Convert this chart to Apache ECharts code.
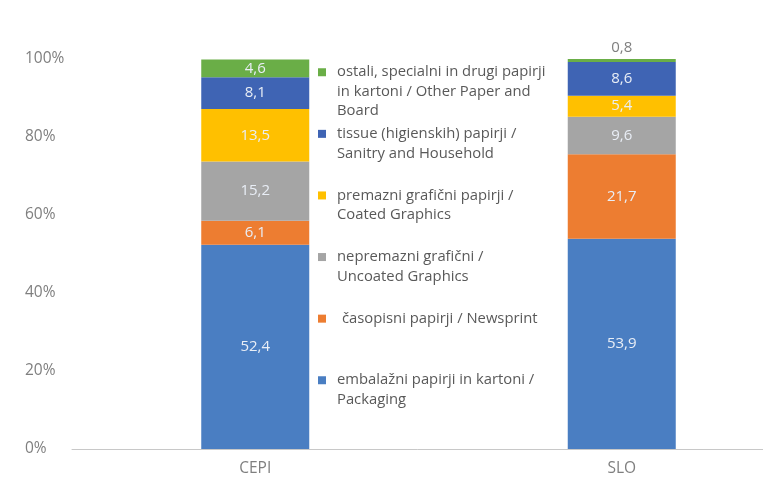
<!DOCTYPE html>
<html>
<head>
<meta charset="utf-8">
<script src="https://cdn.jsdelivr.net/npm/echarts@6/dist/echarts.min.js"></script>
<style>
  html, body { margin: 0; padding: 0; background: #fff; }
  #chart { width: 763px; height: 488px; }
</style>
</head>
<body>
<div id="chart"></div>
<script>
// categories
const categories = ['CEPI', 'SLO'];

// shares in %, bottom of the stack first
const packaging = [52.4, 53.9];
const newsprint = [6.1, 21.7];
const uncoated = [15.2, 9.6];
const coated = [13.5, 5.4];
const tissue = [8.1, 8.6];
const other = [4.6, 0.8];

const names = {
  packaging: 'embalažni papirji in kartoni /\nPackaging',
  newsprint: 'časopisni papirji / Newsprint',
  uncoated: 'nepremazni grafični /\nUncoated Graphics',
  coated: 'premazni grafični papirji /\nCoated Graphics',
  tissue: 'tissue (higienskih) papirji /\nSanitry and Household',
  other: 'ostali, specialni in drugi papirji\nin kartoni / Other Paper and\nBoard'
};

// legend top -> bottom
const legendOrder = ['other', 'tissue', 'coated', 'uncoated', 'newsprint', 'packaging'];

const colors = {
  packaging: '#4a7ec2',
  newsprint: '#ed7d31',
  uncoated: '#a5a5a5',
  coated: '#ffc000',
  tissue: '#3f64b4',
  other: '#6aae47'
};

const FONT = '"Open Sans", "Noto Sans", sans-serif';
const LH = 19.5;

const fmt = v => v.toFixed(1).replace('.', ',');

function barSeries(key, values) {
  return {
    name: names[key],
    type: 'bar',
    stack: 'total',
    barWidth: 108,
    itemStyle: { color: colors[key] },
    label: {
      show: true,
      position: 'inside',
      color: '#e9eef6',
      fontSize: 15,
      fontFamily: FONT,
      formatter: p => fmt(p.value)
    },
    data: values
  };
}

const otherData = other.map((v, i) => i === 1
  ? { value: v, label: { position: 'top', color: '#7f7f7f', distance: 4 } }
  : v);

// legend text: first line sits next to the marker, every entry 5 lines high
const blank = '\u00a0';
function legendText(name) {
  const lines = name.split('\n');
  const pre = [blank, blank];
  const post = [];
  for (let i = lines.length; i < 3; i++) post.push(blank);
  return pre.concat(lines, post).join('\n');
}

const chart = echarts.init(document.getElementById('chart'));
chart.setOption({
  animation: false,
  textStyle: { fontFamily: FONT },
  grid: {
    left: 72,
    right: -42,
    top: 59,
    bottom: 39,
    containLabel: false,
    outerBoundsMode: 'none'
  },
  legend: {
    orient: 'vertical',
    left: 318,
    top: 23.5,
    padding: 0,
    itemWidth: 8,
    itemHeight: 8,
    itemGap: 61.6 - 5 * LH,
    icon: 'rect',
    selectedMode: false,
    formatter: legendText,
    textStyle: {
      fontSize: 14.8,
      lineHeight: LH,
      color: '#595959',
      fontFamily: FONT,
      backgroundColor: 'rgba(255,255,255,0)'
    },
    data: legendOrder.map(k => ({
      name: names[k],
      textStyle: { padding: [0, 0, 0, k === 'newsprint' ? 11 : 6] }
    }))
  },
  xAxis: {
    type: 'category',
    data: categories,
    axisTick: { show: false },
    axisLine: { lineStyle: { color: '#c8c8c8', width: 1 } },
    axisLabel: { color: '#7f7f7f', fontSize: 15.5, margin: 12, fontFamily: FONT }
  },
  yAxis: {
    type: 'value',
    min: 0,
    max: 100,
    interval: 20,
    splitLine: { show: false },
    axisLine: { show: false },
    axisTick: { show: false },
    axisLabel: {
      color: '#7f7f7f',
      fontSize: 15.5,
      align: 'left',
      margin: 47,
      fontFamily: FONT,
      formatter: '{value}%'
    }
  },
  series: [
    barSeries('packaging', packaging),
    barSeries('newsprint', newsprint),
    barSeries('uncoated', uncoated),
    barSeries('coated', coated),
    barSeries('tissue', tissue),
    barSeries('other', otherData)
  ]
});
</script>
</body>
</html>
